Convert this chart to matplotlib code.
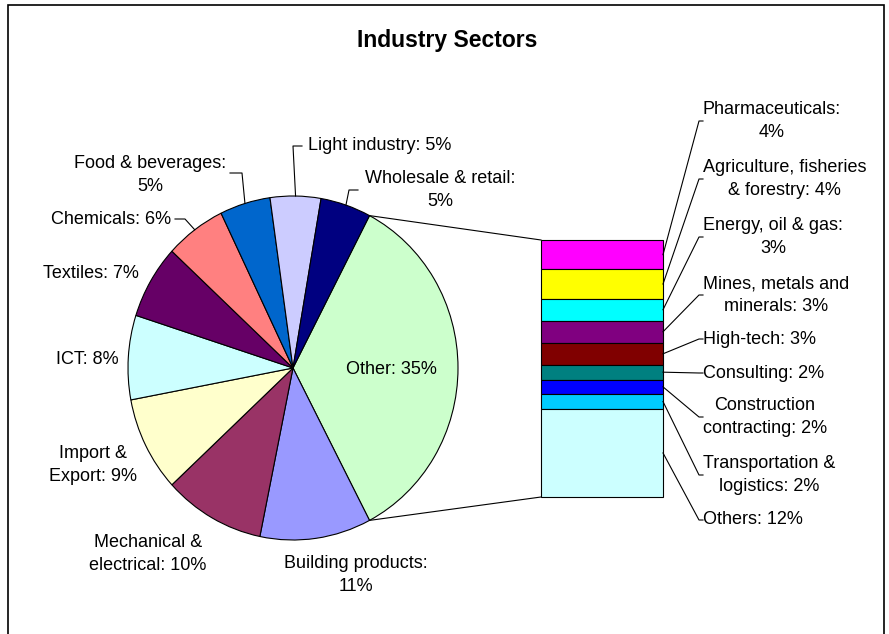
import numpy as np
import matplotlib
matplotlib.use('Agg')
import matplotlib.pyplot as plt
from matplotlib.patches import Rectangle

plt.rcParams['font.family'] = ['Liberation Sans', 'DejaVu Sans']

W, H = 889, 634

# main pie, clockwise from the "Other" slice
pie_labels = ['Other', 'Building products', 'Mechanical &\nelectrical', 'Import &\nExport',
              'ICT', 'Textiles', 'Chemicals', 'Food & beverages', 'Light industry',
              'Wholesale & retail']
pie_values = [35, 11, 10, 9, 8, 7, 6, 5, 5, 5]
pie_colors = ['#CCFFCC', '#9999FF', '#993366', '#FFFFCC', '#CCFFFF', '#660066',
              '#FF8080', '#0066CC', '#CCCCFF', '#000080']

# breakdown of "Other", top to bottom
bar_labels = ['Pharmaceuticals', 'Agriculture, fisheries\n& forestry', 'Energy, oil & gas',
              'Mines, metals and\nminerals', 'High-tech', 'Consulting',
              'Construction\ncontracting', 'Transportation &\nlogistics', 'Others']
bar_values = [4, 4, 3, 3, 3, 2, 2, 2, 12]
bar_colors = ['#FF00FF', '#FFFF00', '#00FFFF', '#800080', '#800000', '#008080',
              '#0000FF', '#00CCFF', '#CCFFFF']


def box(x0, y0, x1, y1):
    # pixel box (top-left origin) -> figure fraction rect
    return [x0 / W, 1 - y1 / H, (x1 - x0) / W, (y1 - y0) / H]


fig = plt.figure(figsize=(W / 100, H / 100), dpi=100)

# pie
ax = fig.add_axes(box(128, 196, 458, 540))
total = sum(pie_values)
start = 180.0 * pie_values[0] / total
wedges, _ = ax.pie(pie_values, colors=pie_colors, startangle=start, counterclock=False,
                   wedgeprops=dict(edgecolor='black', linewidth=0.8, clip_on=False))
ax.set_xlim(-1, 1)
ax.set_ylim(-1, 1)
ax.set_aspect('auto')
ax.axis('off')

# stacked bar
ax2 = fig.add_axes(box(541, 240, 663, 497))
cum = np.concatenate([[0], np.cumsum(bar_values)[:-1]])
bars = ax2.bar(0, bar_values, bottom=cum, width=1.0, color=bar_colors,
               edgecolor='black', linewidth=0.8)
for b in bars:
    b.set_clip_on(False)
ax2.set_xlim(-0.5, 0.5)
ax2.set_ylim(sum(bar_values), 0)
ax2.axis('off')

# overlay in pixel units for labels and leader lines
ov = fig.add_axes([0, 0, 1, 1])
ov.set_xlim(0, W)
ov.set_ylim(H, 0)
ov.axis('off')


def to_px(a, p):
    return ov.transData.inverted().transform(a.transData.transform(p))


def pie_edge(angle):
    t = np.deg2rad(angle)
    return to_px(ax, (np.cos(t), np.sin(t)))


fs = 13
lc = dict(color='black', lw=0.8)

ov.text(447, 40, 'Industry Sectors', fontsize=16.5, fontweight='bold',
        ha='center', va='center')

# connectors from the pie to the bar
p_top = pie_edge(start)
p_bot = pie_edge(-start)
b_top = to_px(ax2, (-0.5, 0))
b_bot = to_px(ax2, (-0.5, sum(bar_values)))
ov.plot([p_top[0], b_top[0]], [p_top[1], b_top[1]], **lc)
ov.plot([p_bot[0], b_bot[0]], [p_bot[1], b_bot[1]], **lc)

# pie label centres (px) and optional leader elbows
pie_pos = [(391, 370), (356, 575), (148, 554), (93, 465), (87, 359), (91, 273),
           (111, 219), (150, 175), (380, 146), (440, 190)]
pie_lead = {6: [(175, 219), (185, 219)],
            7: [(230, 173), (242, 173)],
            8: [(302, 146), (293, 146)],
            9: [(358, 190), (349, 190)]}

for i, (w, lab, v, pos) in enumerate(zip(wedges, pie_labels, pie_values, pie_pos)):
    txt = f'{lab}: {v}%'
    if lab in ('Food & beverages', 'Wholesale & retail', 'Building products'):
        txt = f'{lab}:\n{v}%'
    ov.text(pos[0], pos[1], txt, fontsize=fs, ha='center', va='center',
            multialignment='center', linespacing=1.4)
    if i in pie_lead:
        mid = (w.theta1 + w.theta2) / 2
        e = pie_edge(mid)
        pts = pie_lead[i] + [tuple(e)]
        ov.plot([p[0] for p in pts], [p[1] for p in pts], **lc)

# bar labels
bar_y = [121, 179, 237, 295, 339, 373, 417, 475, 520]
for lab, v, c, y in zip(bar_labels, bar_values, cum, bar_y):
    txt = f'{lab}: {v}%'
    if lab in ('Pharmaceuticals', 'Energy, oil & gas'):
        txt = f'{lab}:\n{v}%'
    ov.text(703, y, txt, fontsize=fs, ha='left', va='center',
            multialignment='center', linespacing=1.4)
    s = to_px(ax2, (0.5, c + v / 2))
    ov.plot([s[0], 699, 703], [s[1], y, y], **lc)

fig.patches.append(Rectangle((8 / W, -0.05), 876 / W, 1.05 - 5 / H,
                             transform=fig.transFigure, fill=False,
                             edgecolor='black', linewidth=1.2))

fig.savefig('out.png', dpi=100)
